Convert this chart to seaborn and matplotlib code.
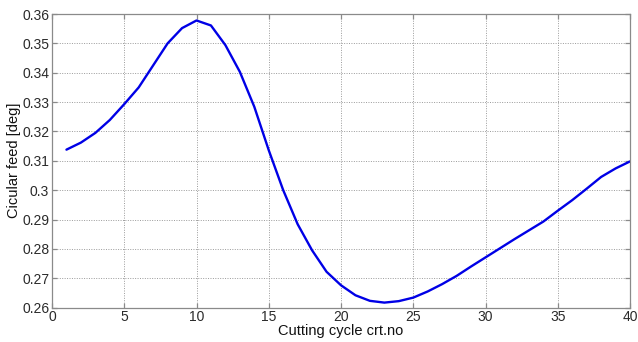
import matplotlib
matplotlib.use("Agg")
import matplotlib.pyplot as plt
import seaborn as sns
import pandas as pd

cycle = list(range(1, 41))
feed = [0.3138, 0.3162, 0.3195, 0.3239, 0.3293, 0.3350, 0.3425, 0.3500, 0.3552, 0.3578,
        0.3561, 0.3494, 0.3403, 0.3284, 0.3136, 0.3000, 0.2884, 0.2795, 0.2722, 0.2676,
        0.2642, 0.2623, 0.2617, 0.2622, 0.2634, 0.2655, 0.2680, 0.2708, 0.2740, 0.2771,
        0.2802, 0.2833, 0.2863, 0.2893, 0.2930, 0.2966, 0.3005, 0.3045, 0.3074, 0.3098]
xticks = [0, 5, 10, 15, 20, 25, 30, 35, 40]
yticks = [0.26, 0.27, 0.28, 0.29, 0.30, 0.31, 0.32, 0.33, 0.34, 0.35, 0.36]
ytick_labels = ["0.26", "0.27", "0.28", "0.29", "0.3", "0.31", "0.32", "0.33", "0.34", "0.35", "0.36"]

df = pd.DataFrame({"cycle": cycle, "feed": feed})

sns.set_theme(style="white")
plt.rcParams['font.family'] = ['Liberation Sans', 'DejaVu Sans']

fig = plt.figure(figsize=(6.38, 3.42), dpi=100)
ax = fig.add_axes([0.0815, 0.1006, 0.9060, 0.8584])
sns.lineplot(data=df, x="cycle", y="feed", ax=ax, color="#0000e6", linewidth=1.7)

ax.set_xlim(0, 40)
ax.set_ylim(0.26, 0.36)
ax.set_xticks(xticks)
ax.set_yticks(yticks)
ax.set_yticklabels(ytick_labels)
ax.grid(True, linestyle=(0, (1, 1.5)), color="#9a9a9a", linewidth=0.7)
for s in ax.spines.values():
    s.set_color("#8a8a8a")
    s.set_linewidth(0.9)
ax.tick_params(direction="in", length=3.5, width=0.9, labelsize=10, colors="#8a8a8a", pad=2,
               top=True, right=True, bottom=True, left=True, labelcolor="#2a2a2a")
ax.set_xlabel("Cutting cycle crt.no", fontsize=10.5, labelpad=0, color="#111111")
ax.set_ylabel("Cicular feed [deg]", fontsize=10.5, labelpad=1, color="#111111")

fig.savefig("out.png", dpi=100, facecolor="white")
